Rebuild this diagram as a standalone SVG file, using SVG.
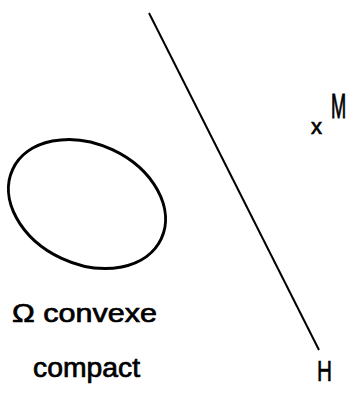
<svg xmlns="http://www.w3.org/2000/svg" width="350" height="394" viewBox="0 0 350 394">
<style>
.t{font-family:"Liberation Sans","DejaVu Sans",sans-serif;fill:#000;stroke:#000;stroke-width:0.7}
</style>
<rect width="350" height="394" fill="#fff"/>
<g id="omega">
<ellipse cx="87" cy="204" rx="82" ry="60" transform="rotate(25 87 204)" fill="none" stroke="#000" stroke-width="3"/>
</g>
<g id="hyperplane">
<line x1="149" y1="13" x2="319" y2="350" stroke="#000" stroke-width="2"/>
</g>
<g id="labels">
<text class="t" x="12" y="322" font-size="26" textLength="145" lengthAdjust="spacingAndGlyphs">Ω convexe</text>
<text class="t" x="33" y="377" font-size="27" textLength="107" lengthAdjust="spacingAndGlyphs">compact</text>
<text class="t" x="311" y="134" font-size="22">x</text>
<text class="t" transform="translate(331 118) scale(0.7 1.35)" font-size="26">M</text>
<text class="t" x="317" y="381" font-size="30" textLength="15" lengthAdjust="spacingAndGlyphs">H</text>
</g>
</svg>
